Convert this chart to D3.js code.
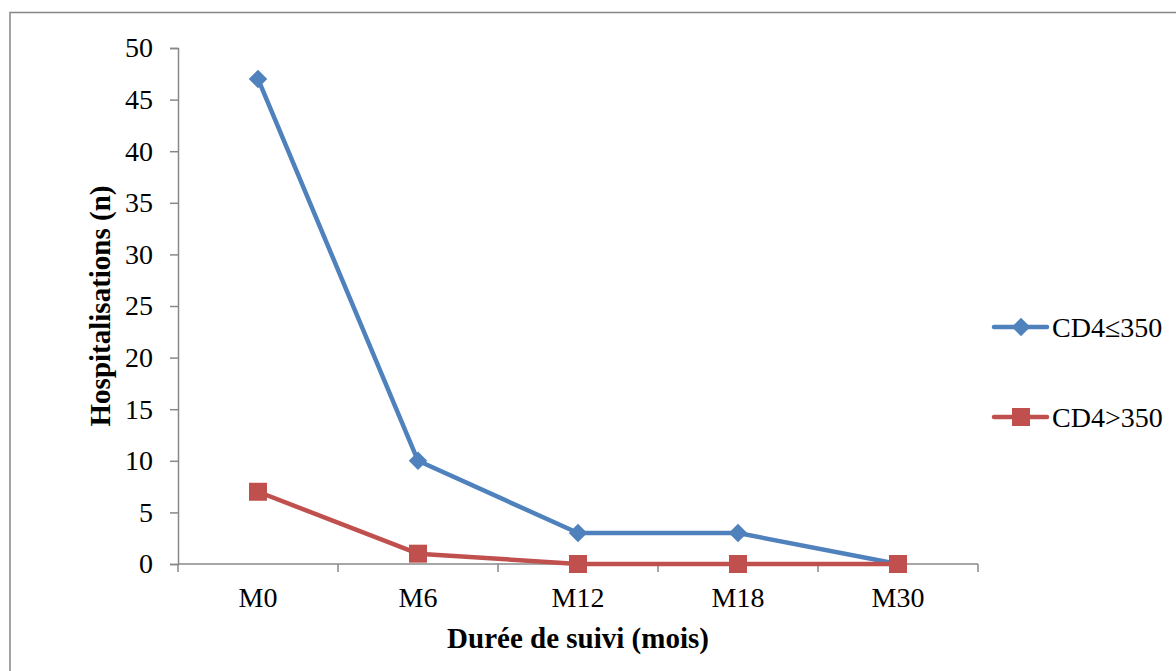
<!DOCTYPE html>
<html lang="fr">
<head>
<meta charset="utf-8">
<title>Hospitalisations</title>
<style>
  body { margin: 0; background: #fff; }
  text { font-family: "Liberation Serif", "Times New Roman", serif; fill: #000; }
  .axis path, .axis line { stroke: #888; stroke-width: 1.5px; }
</style>
</head>
<body>
<script src="https://cdn.jsdelivr.net/npm/d3@7/dist/d3.min.js"></script>
<script>

// data
var categories = ["M0", "M6", "M12", "M18", "M30"];
var cd4Low = [47, 10, 3, 3, 0];
var cd4High = [7, 1, 0, 0, 0];
var yTicks = [0, 5, 10, 15, 20, 25, 30, 35, 40, 45, 50];

// excel-like diamond: a square turned 45 degrees
var diamond = {
    draw: function(context, size) {
        var r = Math.sqrt(size / 2);
        context.moveTo(0, -r);
        context.lineTo(r, 0);
        context.lineTo(0, r);
        context.lineTo(-r, 0);
        context.closePath();
    }
};

var series = [
    {name: "CD4\u2264350", values: cd4Low, color: "#4F81BD", symbol: diamond, size: 170},
    {name: "CD4>350", values: cd4High, color: "#C0504D", symbol: d3.symbolSquare, size: 324}
];

var width = 1176, height = 671;
var plot = {left: 178, right: 978, top: 48, bottom: 564};

var svg = d3.select("body").append("svg")
    .attr("width", width)
    .attr("height", height);

// outer frame
svg.append("rect")
    .attr("x", 10).attr("y", 12.5)
    .attr("width", 1200).attr("height", 700)
    .attr("fill", "none")
    .attr("stroke", "#868686")
    .attr("stroke-width", 1.5);

var x = d3.scaleBand()
    .domain(categories)
    .range([plot.left, plot.right]);

var y = d3.scaleLinear()
    .domain([0, 50])
    .range([plot.bottom, plot.top]);

// y axis
var yAxis = svg.append("g")
    .attr("class", "axis")
    .attr("transform", "translate(" + plot.left + ",0)")
    .call(d3.axisLeft(y).tickValues(yTicks).tickSize(8).tickSizeOuter(8).tickPadding(17));
yAxis.selectAll("text")
    .style("font-size", "28px")
    .style("font-family", "Liberation Serif, serif");

// x axis: ticks between categories
var xAxis = svg.append("g")
    .attr("class", "axis")
    .attr("transform", "translate(0," + plot.bottom + ")");
xAxis.append("line")
    .attr("x1", plot.left).attr("x2", plot.right)
    .attr("y1", 0).attr("y2", 0);
var bounds = [plot.left].concat(categories.map(function(c) { return x(c) + x.bandwidth(); }));
xAxis.selectAll(".tk")
    .data(bounds)
    .enter().append("line")
    .attr("x1", function(d) { return d; })
    .attr("x2", function(d) { return d; })
    .attr("y1", 0).attr("y2", 8);
xAxis.selectAll(".lbl")
    .data(categories)
    .enter().append("text")
    .attr("x", function(d) { return x(d) + x.bandwidth() / 2; })
    .attr("y", 43)
    .attr("text-anchor", "middle")
    .style("font-size", "28px")
    .text(function(d) { return d; });

// axis titles
svg.append("text")
    .attr("x", (plot.left + plot.right) / 2)
    .attr("y", 648)
    .attr("text-anchor", "middle")
    .style("font-size", "29px")
    .style("font-weight", "bold")
    .text("Durée de suivi (mois)");

svg.append("text")
    .attr("transform", "translate(110," + (plot.top + plot.bottom) / 2 + ") rotate(-90)")
    .attr("text-anchor", "middle")
    .style("font-size", "29px")
    .style("font-weight", "bold")
    .text("Hospitalisations (n)");

// lines and markers
var line = d3.line()
    .x(function(d, i) { return x(categories[i]) + x.bandwidth() / 2; })
    .y(function(d) { return y(d); });

series.forEach(function(s) {
    svg.append("path")
        .datum(s.values)
        .attr("fill", "none")
        .attr("stroke", s.color)
        .attr("stroke-width", 4.5)
        .attr("stroke-linejoin", "round")
        .attr("d", line);
});

series.forEach(function(s) {
    svg.selectAll(null)
        .data(s.values)
        .enter().append("path")
        .attr("transform", function(d, i) {
            return "translate(" + (x(categories[i]) + x.bandwidth() / 2) + "," + y(d) + ")";
        })
        .attr("d", d3.symbol().type(s.symbol).size(s.size))
        .attr("fill", s.color);
});

// legend
var legend = svg.selectAll(".legend")
    .data(series)
    .enter().append("g")
    .attr("transform", function(d, i) { return "translate(994," + (327 + i * 90) + ")"; });

legend.append("line")
    .attr("x1", 0).attr("x2", 53)
    .attr("stroke", function(d) { return d.color; })
    .attr("stroke-width", 4.5)
    .attr("stroke-linecap", "round");

legend.append("path")
    .attr("transform", "translate(27,0)")
    .attr("d", function(d) { return d3.symbol().type(d.symbol).size(d.size)(); })
    .attr("fill", function(d) { return d.color; });

legend.append("text")
    .attr("x", 58)
    .attr("dy", "0.35em")
    .style("font-size", "28px")
    .text(function(d) { return d.name; });

</script>
</body>
</html>
